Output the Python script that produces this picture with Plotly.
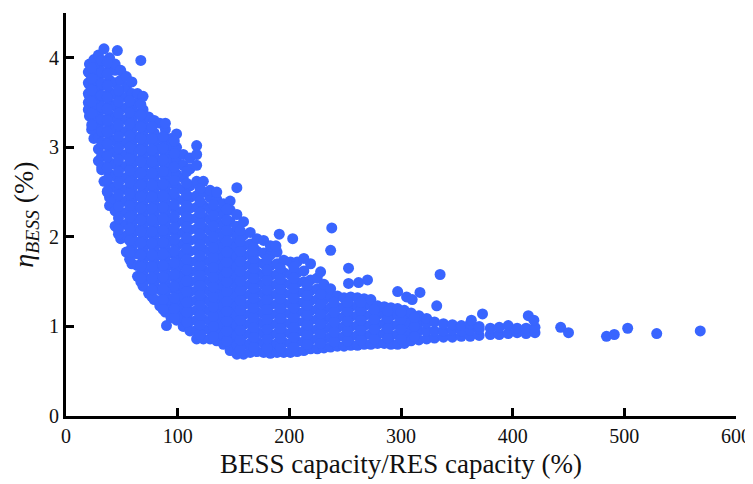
import plotly.graph_objects as go

# Values, one list of eta readings per capacity column
capacity_columns = [20, 21, 25, 29, 34, 39, 44, 49, 54, 59, 64, 69, 74, 79, 84, 89, 94, 99,
                    105, 111, 117, 123, 129, 135, 141, 147, 153, 159, 165, 171, 177, 183, 189,
                    195, 201, 207, 213, 219, 225, 231, 237, 243, 249, 255, 261, 267, 273, 279,
                    285, 291, 297, 303, 309, 316, 323, 330, 338, 346, 354, 362, 370, 380,
                    388, 396, 404, 412, 420]
eta_columns = [
    [3.42, 3.5, 3.6, 3.72, 3.84],
    [3.35, 3.44, 3.57, 3.7, 3.83, 3.93],
    [3.1, 3.2, 3.33, 3.46, 3.59, 3.72, 3.85, 3.98],
    [2.85, 2.98, 3.11, 3.25, 3.38, 3.51, 3.64, 3.77, 3.9, 4.03],
    [2.62, 2.77, 2.9, 3.04, 3.17, 3.3, 3.43, 3.56, 3.7, 3.83, 3.96, 4.1],
    [2.35, 2.44, 2.57, 2.7, 2.83, 2.97, 3.1, 3.23, 3.36, 3.49, 3.62, 3.75, 3.88, 4.0],
    [2.12, 2.29, 2.42, 2.55, 2.68, 2.81, 2.94, 3.07, 3.2, 3.33, 3.46, 3.59, 3.72, 3.86, 3.93],
    [1.98, 2.14, 2.27, 2.4, 2.53, 2.66, 2.79, 2.92, 3.05, 3.18, 3.31, 3.44, 3.57, 3.75, 3.86],
    [1.83, 2.01, 2.14, 2.27, 2.4, 2.53, 2.66, 2.79, 2.92, 3.05, 3.18, 3.31, 3.44, 3.56, 3.67, 3.79],
    [1.7, 1.89, 2.02, 2.15, 2.28, 2.41, 2.54, 2.67, 2.8, 2.93, 3.06, 3.19, 3.32, 3.45, 3.6, 3.73],
    [1.56, 1.68, 1.81, 1.94, 2.07, 2.2, 2.33, 2.46, 2.59, 2.72, 2.85, 2.98, 3.11, 3.24, 3.37, 3.5, 3.6],
    [1.45, 1.6, 1.73, 1.86, 1.99, 2.12, 2.25, 2.38, 2.51, 2.64, 2.77, 2.9, 3.03, 3.16, 3.29, 3.42, 3.57],
    [1.37, 1.53, 1.66, 1.79, 1.92, 2.05, 2.18, 2.31, 2.44, 2.57, 2.7, 2.83, 2.96, 3.09, 3.22, 3.34],
    [1.3, 1.47, 1.6, 1.73, 1.86, 1.99, 2.12, 2.25, 2.38, 2.51, 2.64, 2.77, 2.9, 3.03, 3.16, 3.3],
    [1.23, 1.29, 1.41, 1.54, 1.67, 1.8, 1.93, 2.06, 2.19, 2.32, 2.45, 2.58, 2.72, 2.85, 2.98, 3.1, 3.27],
    [1.16, 1.24, 1.36, 1.48, 1.61, 1.74, 1.87, 2.0, 2.13, 2.26, 2.39, 2.52, 2.66, 2.79, 2.92, 3.05, 3.2, 3.27],
    [1.1, 1.19, 1.3, 1.43, 1.56, 1.69, 1.82, 1.95, 2.08, 2.21, 2.34, 2.47, 2.6, 2.73, 2.87, 3.0, 3.1],
    [1.07, 1.15, 1.26, 1.38, 1.51, 1.64, 1.77, 1.9, 2.03, 2.16, 2.29, 2.42, 2.56, 2.7, 2.85, 3.0, 3.15],
    [1.0, 1.1, 1.21, 1.33, 1.45, 1.57, 1.69, 1.81, 1.93, 2.05, 2.17, 2.29, 2.41, 2.53, 2.66, 2.8, 2.92],
    [0.95, 1.06, 1.17, 1.28, 1.39, 1.5, 1.61, 1.72, 1.84, 1.96, 2.08, 2.2, 2.32, 2.44, 2.57, 2.76, 2.88],
    [0.86, 0.96, 1.07, 1.18, 1.29, 1.4, 1.51, 1.62, 1.73, 1.85, 1.97, 2.09, 2.21, 2.33, 2.46, 2.62, 2.8, 2.92, 3.02],
    [0.86, 0.97, 1.08, 1.19, 1.3, 1.41, 1.52, 1.63, 1.74, 1.86, 1.98, 2.1, 2.22, 2.35, 2.5, 2.62],
    [0.86, 0.96, 1.06, 1.17, 1.28, 1.39, 1.5, 1.61, 1.72, 1.83, 1.95, 2.07, 2.19, 2.31, 2.44, 2.52],
    [0.84, 0.94, 1.05, 1.16, 1.27, 1.38, 1.49, 1.6, 1.71, 1.82, 1.93, 2.05, 2.17, 2.29, 2.42, 2.5],
    [0.8, 0.9, 1.01, 1.12, 1.23, 1.34, 1.45, 1.56, 1.67, 1.78, 1.89, 2.01, 2.13, 2.25, 2.37],
    [0.73, 0.83, 0.94, 1.05, 1.16, 1.27, 1.38, 1.49, 1.6, 1.71, 1.82, 1.93, 2.05, 2.17, 2.3, 2.4],
    [0.69, 0.79, 0.9, 1.01, 1.12, 1.23, 1.34, 1.45, 1.56, 1.67, 1.78, 1.89, 2.0, 2.12, 2.25],
    [0.69, 0.8, 0.91, 1.02, 1.13, 1.24, 1.35, 1.46, 1.57, 1.68, 1.79, 1.9, 2.02, 2.17],
    [0.71, 0.81, 0.92, 1.03, 1.14, 1.25, 1.36, 1.47, 1.58, 1.69, 1.8, 1.92, 2.05],
    [0.72, 0.83, 0.94, 1.05, 1.16, 1.27, 1.38, 1.49, 1.6, 1.71, 1.84, 1.98],
    [0.71, 0.81, 0.92, 1.03, 1.14, 1.25, 1.36, 1.47, 1.58, 1.7, 1.82, 1.96],
    [0.7, 0.8, 0.91, 1.02, 1.13, 1.24, 1.35, 1.46, 1.57, 1.68, 1.8, 1.9],
    [0.71, 0.81, 0.92, 1.03, 1.14, 1.25, 1.36, 1.47, 1.58, 1.7, 1.83],
    [0.71, 0.82, 0.93, 1.04, 1.15, 1.26, 1.37, 1.48, 1.6, 1.74],
    [0.71, 0.81, 0.92, 1.03, 1.14, 1.25, 1.36, 1.47, 1.58, 1.72],
    [0.72, 0.83, 0.94, 1.05, 1.16, 1.27, 1.38, 1.49, 1.6, 1.72],
    [0.73, 0.83, 0.94, 1.05, 1.16, 1.27, 1.38, 1.5, 1.62, 1.76],
    [0.75, 0.85, 0.96, 1.07, 1.18, 1.29, 1.4, 1.52, 1.7],
    [0.75, 0.86, 0.97, 1.08, 1.19, 1.3, 1.42, 1.54],
    [0.76, 0.86, 0.97, 1.08, 1.19, 1.3, 1.41, 1.47],
    [0.77, 0.88, 0.99, 1.1, 1.21, 1.33, 1.42],
    [0.78, 0.88, 0.99, 1.1, 1.21, 1.34],
    [0.78, 0.89, 1.0, 1.11, 1.22, 1.32],
    [0.79, 0.89, 1.0, 1.11, 1.22, 1.33],
    [0.79, 0.9, 1.01, 1.12, 1.23, 1.32],
    [0.8, 0.9, 1.01, 1.12, 1.23, 1.31],
    [0.8, 0.91, 1.02, 1.13, 1.24, 1.3],
    [0.81, 0.91, 1.02, 1.13, 1.23],
    [0.81, 0.92, 1.03, 1.14, 1.22],
    [0.8, 0.9, 1.01, 1.12, 1.21],
    [0.8, 0.91, 1.02, 1.13, 1.2],
    [0.81, 0.91, 1.02, 1.13, 1.18],
    [0.84, 0.94, 1.05, 1.15],
    [0.85, 0.95, 1.04, 1.12],
    [0.86, 0.95, 1.04, 1.09],
    [0.87, 0.95, 1.05],
    [0.88, 0.95, 1.03],
    [0.88, 0.96, 1.02],
    [0.89, 0.95, 1.01],
    [0.89, 0.96, 1.03],
    [0.9, 0.97, 1.0],
    [0.91, 0.98],
    [0.91, 0.99],
    [0.92, 1.01],
    [0.93, 0.98],
    [0.92, 0.98],
    [0.93, 0.99],
]
# Second reading of the dense cloud, between the columns above
dense_capacity = [23, 32, 37, 47, 57, 67, 77, 87, 97, 108, 120, 132, 144, 156, 168, 180, 192,
                  204, 216, 228, 240, 252, 264, 276, 288, 300, 312]
dense_eta = [
    [3.2, 3.25, 3.38, 3.51, 3.64, 3.77, 3.89],
    [2.75, 2.78, 2.91, 3.05, 3.18, 3.31, 3.45, 3.58, 3.71, 3.84, 3.97],
    [2.5, 2.51, 2.64, 2.77, 2.9, 3.04, 3.17, 3.3, 3.43, 3.56, 3.69, 3.82, 3.95],
    [2.03, 2.08, 2.21, 2.34, 2.47, 2.6, 2.73, 2.86, 2.99, 3.12, 3.25, 3.38, 3.51, 3.64],
    [1.75, 1.83, 1.96, 2.09, 2.22, 2.35, 2.48, 2.61, 2.74, 2.87, 3.0, 3.13, 3.26, 3.39, 3.52],
    [1.5, 1.54, 1.67, 1.8, 1.93, 2.06, 2.19, 2.32, 2.45, 2.58, 2.71, 2.84, 2.97, 3.1, 3.23, 3.36, 3.48],
    [1.33, 1.41, 1.54, 1.67, 1.8, 1.93, 2.06, 2.19, 2.32, 2.45, 2.58, 2.71, 2.84, 2.97, 3.1, 3.23],
    [1.19, 1.3, 1.42, 1.55, 1.68, 1.81, 1.94, 2.07, 2.2, 2.33, 2.46, 2.59, 2.73, 2.86, 2.99, 3.12],
    [1.1, 1.2, 1.32, 1.45, 1.58, 1.71, 1.84, 1.97, 2.1, 2.23, 2.36, 2.49, 2.63, 2.78, 2.93, 3.07],
    [1.05, 1.16, 1.27, 1.39, 1.51, 1.63, 1.75, 1.87, 1.99, 2.11, 2.23, 2.35, 2.47, 2.6, 2.73],
    [0.91, 1.02, 1.13, 1.24, 1.35, 1.46, 1.57, 1.68, 1.79, 1.91, 2.03, 2.15, 2.27, 2.4, 2.54],
    [0.89, 1.0, 1.11, 1.22, 1.33, 1.44, 1.55, 1.66, 1.77, 1.88, 2.0, 2.12, 2.24, 2.36],
    [0.84, 0.95, 1.06, 1.17, 1.28, 1.39, 1.5, 1.61, 1.72, 1.83, 1.95, 2.07, 2.19, 2.31],
    [0.74, 0.85, 0.96, 1.07, 1.18, 1.29, 1.4, 1.51, 1.62, 1.73, 1.84, 1.95, 2.07],
    [0.77, 0.88, 0.99, 1.1, 1.21, 1.32, 1.43, 1.54, 1.65, 1.76, 1.88],
    [0.76, 0.86, 0.97, 1.08, 1.19, 1.3, 1.41, 1.52, 1.63, 1.75],
    [0.76, 0.87, 0.98, 1.09, 1.2, 1.31, 1.42, 1.53, 1.65],
    [0.77, 0.88, 0.99, 1.1, 1.21, 1.32, 1.43, 1.54, 1.66],
    [0.8, 0.91, 1.02, 1.13, 1.24, 1.35, 1.46],
    [0.81, 0.92, 1.03, 1.14, 1.25, 1.36],
    [0.83, 0.94, 1.05, 1.16, 1.27],
    [0.84, 0.95, 1.06, 1.17, 1.27],
    [0.85, 0.96, 1.07, 1.18, 1.27],
    [0.86, 0.97, 1.08, 1.19],
    [0.87, 0.98, 1.09, 1.17],
    [0.86, 0.97, 1.08, 1.16],
    [0.89, 1.0, 1.1],
]
outlier_capacity = [46, 67, 90, 153, 167, 188, 191, 203, 228, 238, 237, 253, 253, 262, 270, 297,
                    305, 317, 335, 332, 373, 363, 310, 414, 419, 443, 450, 484,
                    491, 503, 529, 568]
outlier_eta = [4.08, 3.97, 1.01, 2.55, 1.84, 1.9, 2.03, 1.98, 1.61, 2.1, 1.85, 1.65, 1.48, 1.49, 1.52,
               1.39, 1.33, 1.38, 1.58, 1.23, 1.14, 1.07, 1.3, 1.12, 1.07, 0.99,
               0.93, 0.89, 0.91, 0.98, 0.92, 0.95]
x_ticks = [0, 100, 200, 300, 400, 500, 600]
y_ticks = [0, 1, 2, 3, 4]

capacity = ([x for x, ys in zip(capacity_columns, eta_columns) for _ in ys]
            + [x for x, ys in zip(dense_capacity, dense_eta) for _ in ys] + outlier_capacity)
eta = [y for ys in eta_columns for y in ys] + [y for ys in dense_eta for y in ys] + outlier_eta

FONT = "Liberation Serif"
fig = go.Figure(go.Scatter(x=capacity, y=eta, mode="markers",
                           marker=dict(size=11, color="#3965FF", line=dict(width=0)),
                           showlegend=False))
axis_style = dict(showline=True, linecolor="black", linewidth=3, ticks="inside", ticklen=8,
                  tickwidth=3, tickcolor="black", showgrid=False, zeroline=False,
                  tickfont=dict(family=FONT, size=20, color="#111"))
fig.update_xaxes(range=[0, 600], tickvals=x_ticks, **axis_style,
                 title=dict(text="BESS capacity/RES capacity (%)", standoff=9,
                            font=dict(family=FONT, size=27, color="#111")))
fig.update_yaxes(range=[0, 4.5], tickvals=y_ticks, **axis_style,
                 title=dict(text="<i>η<sub>BESS</sub></i> (%)", standoff=10,
                            font=dict(family=FONT, size=28, color="#111")))
# The page adds an 8px body margin on the top and left
fig.update_layout(width=745, height=476, margin=dict(l=58, r=17, t=5, b=68, autoexpand=False),
                  paper_bgcolor="white", plot_bgcolor="white")
fig.write_html("out.html")
